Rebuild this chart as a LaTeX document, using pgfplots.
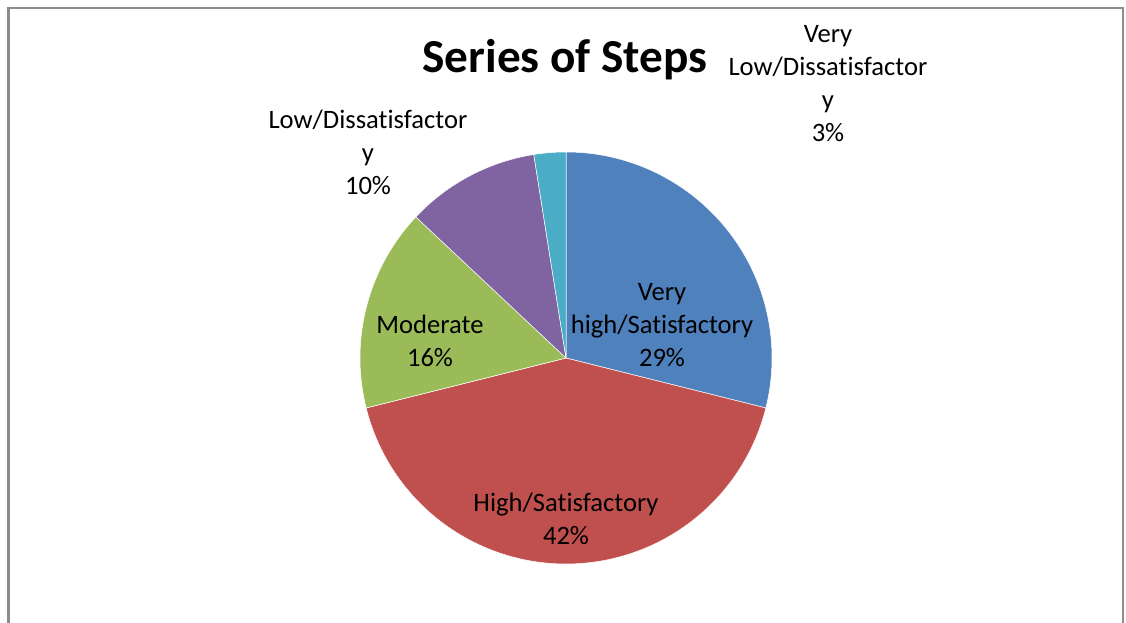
\documentclass[border=0pt]{standalone}
\usepackage{pgfplots}
\pgfplotsset{compat=1.18}
\usepackage{fontspec}
\setmainfont{Carlito}[Ligatures=NoCommon]
\definecolor{vh}{HTML}{4F81BD}
\definecolor{hi}{HTML}{C0504D}
\definecolor{mo}{HTML}{9BBB59}
\definecolor{lo}{HTML}{8064A2}
\definecolor{vl}{HTML}{4BACC6}
\definecolor{frame}{HTML}{8C8C8C}
\begin{document}
\begin{tikzpicture}[x=1pt,y=1pt]
\useasboundingbox (0,0) rectangle (1126,623);
\clip (0,0) rectangle (1126,623);
\fill[white] (0,0) rectangle (1126,623);
\draw[frame, line width=2.2pt] (8.5,-10) -- (8.5,615) -- (1123,615) -- (1123,-10);
% slice shares (percent), clockwise from 12 o'clock: 28.9, 42.2, 15.9, 10.5, 2.5
\begin{axis}[at={(566pt,265pt)}, anchor=origin, scale only axis, width=412pt, height=412pt,
  xmin=-1, xmax=1, ymin=-1, ymax=1, axis lines=none, clip=false]
\addplot[fill=vh, draw=white, line width=0.5pt, domain={90-3.6*28.9}:{90}, samples=80, variable=\t] ({cos(\t)},{sin(\t)}) -- (0,0) -- cycle;
\addplot[fill=hi, draw=white, line width=0.5pt, domain={90-3.6*(28.9+42.2)}:{90-3.6*28.9}, samples=100, variable=\t] ({cos(\t)},{sin(\t)}) -- (0,0) -- cycle;
\addplot[fill=mo, draw=white, line width=0.5pt, domain={90-3.6*(28.9+42.2+15.9)}:{90-3.6*(28.9+42.2)}, samples=50, variable=\t] ({cos(\t)},{sin(\t)}) -- (0,0) -- cycle;
\addplot[fill=lo, draw=white, line width=0.5pt, domain={90-3.6*(28.9+42.2+15.9+10.5)}:{90-3.6*(28.9+42.2+15.9)}, samples=40, variable=\t] ({cos(\t)},{sin(\t)}) -- (0,0) -- cycle;
\addplot[fill=vl, draw=white, line width=0.5pt, domain={90-3.6*(28.9+42.2+15.9+10.5+2.5)}:{90-3.6*(28.9+42.2+15.9+10.5)}, samples=20, variable=\t] ({cos(\t)},{sin(\t)}) -- (0,0) -- cycle;
\end{axis}
\node[font=\fontsize{47.3}{54}\selectfont\bfseries] at (565,563) {Series of Steps};
\begin{scope}[every node/.style={align=center, font=\fontsize{26.6}{33}\selectfont}]
\node at (662,298) {Very\\high/Satisfactory\\29\%};
\node at (566,104) {High/Satisfactory\\42\%};
\node at (430,282) {Moderate\\16\%};
\node at (368,471) {Low/Dissatisfactor\\y\\10\%};
\node at (828,539) {Very\\Low/Dissatisfactor\\y\\3\%};
\end{scope}
\end{tikzpicture}
\end{document}
